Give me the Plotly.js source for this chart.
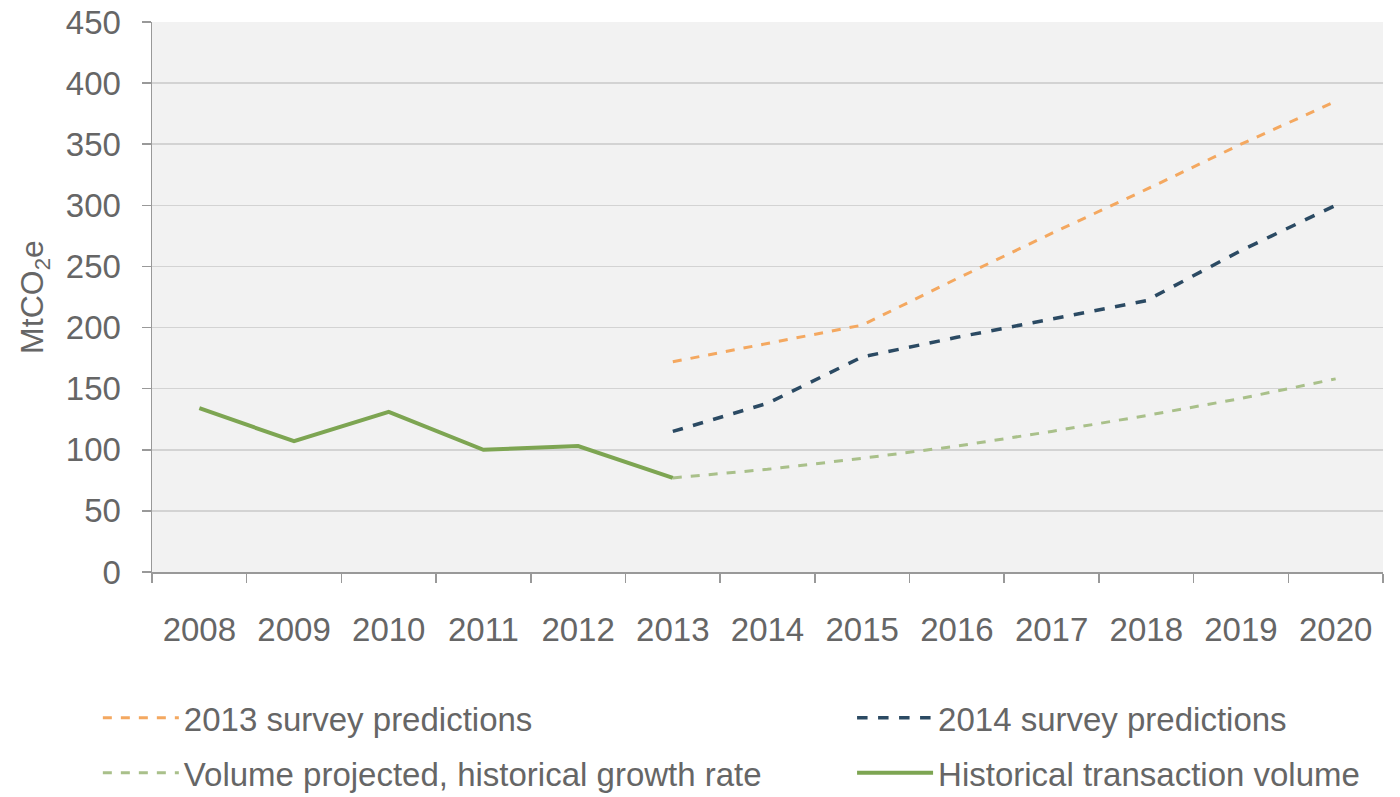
<!DOCTYPE html>
<html>
<head>
<meta charset="utf-8">
<script src="https://cdn.plot.ly/plotly-3.0.1.min.js"></script>
<style>html,body{margin:0;padding:0;background:#fff;}#chart{width:1400px;height:797px;}</style>
</head>
<body>
<div id="chart"></div>
<script>
const years = ['2008','2009','2010','2011','2012','2013','2014','2015','2016','2017','2018','2019','2020'];
const histYears = ['2008','2009','2010','2011','2012','2013'];
const historical = [134, 107, 131, 100, 103, 77];
const projYears = ['2013','2014','2015','2016','2017','2018','2019','2020'];
const survey2013 = [172, 187, 202, 240, 277, 313, 350, 385];
const survey2014 = [115, 138, 176, 192, 207, 222, 263, 300];
const projected = [77, 84, 93, 103, 115, 128, 142, 158];

const traces = [
  {x: projYears, y: survey2013, name: '2013 survey predictions', mode: 'lines',
   line: {color: '#f4a860', width: 3, dash: 'dash'}, legend: 'legend'},
  {x: projYears, y: survey2014, name: '2014 survey predictions', mode: 'lines',
   line: {color: '#2b4a63', width: 3.5, dash: 'dash'}, legend: 'legend2'},
  {x: projYears, y: projected, name: 'Volume projected, historical growth rate', mode: 'lines',
   line: {color: '#a9c08a', width: 3, dash: 'dash'}, legend: 'legend3'},
  {x: histYears, y: historical, name: 'Historical transaction volume', mode: 'lines',
   line: {color: '#7da552', width: 4}, legend: 'legend4'}
];

const fontFam = 'Liberation Sans, Arial, sans-serif';
const legendCommon = {
  orientation: 'h', xanchor: 'left', yanchor: 'middle',
  font: {family: fontFam, size: 33, color: '#666'},
  bgcolor: 'rgba(0,0,0,0)', itemwidth: 76
};

const layout = {
  width: 1400, height: 797,
  margin: {l: 152, r: 17, t: 22, b: 225, autoexpand: false},
  paper_bgcolor: '#ffffff', plot_bgcolor: '#f2f2f2',
  font: {family: fontFam, color: '#666'},
  showlegend: true,
  xaxis: {
    type: 'category', categoryarray: years, range: [-0.5, 12.5], automargin: false,
    showgrid: false, showline: true, linecolor: '#999', linewidth: 1.5,
    ticks: 'outside', tickson: 'boundaries', ticklen: 9, tickcolor: '#999', tickwidth: 1.5,
    tickfont: {family: fontFam, size: 33, color: '#666'}, ticklabelstandoff: 28,
    zeroline: false
  },
  yaxis: {
    range: [0, 450], dtick: 50, showgrid: true, gridcolor: '#d3d3d3', gridwidth: 1.5,
    showline: true, linecolor: '#999', linewidth: 1.5, automargin: false,
    ticks: 'outside', ticklen: 9, tickcolor: '#999', tickwidth: 1.5,
    tickfont: {family: fontFam, size: 33, color: '#666'}, ticklabelstandoff: 14,
    zeroline: false,
    title: {text: 'MtCO<sub>2</sub>e', font: {family: fontFam, size: 32, color: '#666'}, standoff: 12}
  },
  legend: Object.assign({}, legendCommon, {x: -0.044, y: -0.265}),
  legend2: Object.assign({}, legendCommon, {x: 0.5687, y: -0.265}),
  legend3: Object.assign({}, legendCommon, {x: -0.044, y: -0.365}),
  legend4: Object.assign({}, legendCommon, {x: 0.5687, y: -0.365})
};

Plotly.newPlot('chart', traces, layout, {displayModeBar: false, staticPlot: true});
</script>
</body>
</html>
